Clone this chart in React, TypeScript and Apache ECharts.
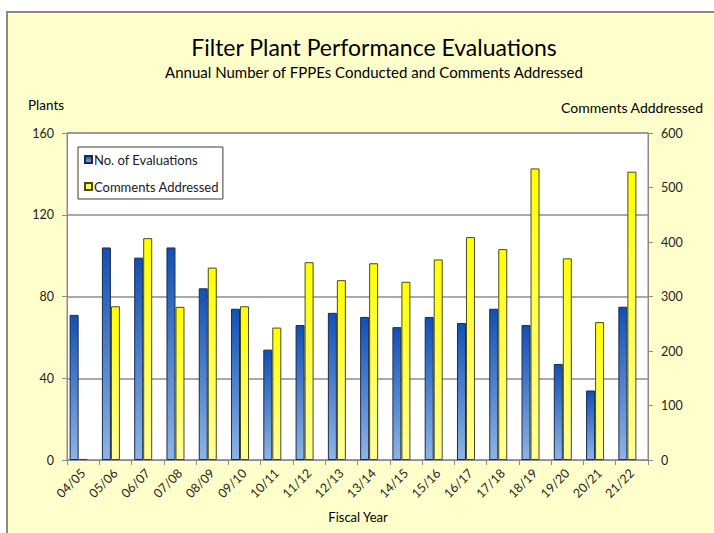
import React, { useEffect, useRef } from "react";
import * as echarts from "echarts";

const categories = ["04/05", "05/06", "06/07", "07/08", "08/09", "09/10", "10/11", "11/12", "12/13", "13/14", "14/15", "15/16", "16/17", "17/18", "18/19", "19/20", "20/21", "21/22"];
const evaluations = [71, 104, 99, 104, 84, 74, 54, 66, 72, 70, 65, 70, 67, 74, 66, 47, 34, 75];
const comments = [2, 282, 407, 281, 353, 282, 243, 363, 330, 361, 327, 368, 409, 387, 535, 370, 253, 529];
const leftTicks = { min: 0, max: 160, interval: 40 };
const rightTicks = { min: 0, max: 600, interval: 100 };

const FONT = "Lato, 'Noto Sans', sans-serif";

export default function App() {
  const ref = useRef<HTMLDivElement>(null);
  useEffect(() => {
    if (!ref.current) return;
    const chart = echarts.init(ref.current, undefined, { renderer: "svg" });
    const blue = new echarts.graphic.LinearGradient(0, 0, 0, 1, [
      { offset: 0, color: "#1150b5" },
      { offset: 1, color: "#8db4e4" },
    ]);
    const yellow = new echarts.graphic.LinearGradient(0, 0, 0, 1, [
      { offset: 0, color: "#ffff00" },
      { offset: 1, color: "#ffff9c" },
    ]);
    chart.setOption({
      animation: false,
      backgroundColor: "transparent",
      textStyle: { fontFamily: FONT },
      grid: {
        left: 67,
        right: 66,
        top: 133,
        bottom: 73,
        show: true,
        backgroundColor: "#ffffff",
        borderColor: "#8c8c8c",
        borderWidth: 1,
        containLabel: false,
      },
      legend: {
        data: ["No. of Evaluations", "Comments Addressed"],
        orient: "vertical",
        left: 78,
        top: 147,
        backgroundColor: "#ffffff",
        borderColor: "#3a3a3a",
        borderWidth: 1,
        padding: [5, 4, 5, 6],
        itemGap: 12,
        itemWidth: 7,
        itemHeight: 7,
        icon: "rect",
        textStyle: { fontFamily: FONT, fontSize: 13, color: "#1a1a1a", padding: [0, 0, 0, -3], lineHeight: 15 },
      },
      graphic: [
        { type: "text", x: 374, y: 47, style: { text: "Filter Plant Performance Evaluations", font: `23px ${FONT}`, fill: "#000", textAlign: "center", textVerticalAlign: "middle" } },
        { type: "text", x: 374, y: 72, style: { text: "Annual Number of FPPEs Conducted and Comments Addressed", font: `15px ${FONT}`, fill: "#000", textAlign: "center", textVerticalAlign: "middle" } },
        { type: "text", x: 28, y: 105, style: { text: "Plants", font: `13.5px ${FONT}`, fill: "#000", textAlign: "left", textVerticalAlign: "middle" } },
        { type: "text", x: 703, y: 107, style: { text: "Comments Adddressed", font: `14px ${FONT}`, fill: "#000", textAlign: "right", textVerticalAlign: "middle" } },
        { type: "text", x: 358, y: 517, style: { text: "Fiscal Year", font: `13px ${FONT}`, fill: "#000", textAlign: "center", textVerticalAlign: "middle" } },
      ],
      xAxis: {
        type: "category",
        data: categories,
        axisLine: { show: true, lineStyle: { color: "#8c8c8c", width: 1 } },
        axisTick: { show: true, length: 5, lineStyle: { color: "#8c8c8c" } },
        axisLabel: { rotate: 45, margin: 11, fontSize: 12.5, color: "#222", fontFamily: FONT, interval: 0 },
        splitLine: { show: false },
      },
      yAxis: [
        {
          type: "value",
          position: "left",
          ...leftTicks,
          axisLine: { show: true, lineStyle: { color: "#8c8c8c" } },
          axisTick: { show: true, length: 5, lineStyle: { color: "#8c8c8c" } },
          axisLabel: { margin: 13, fontSize: 12.5, color: "#222", fontFamily: FONT },
          splitLine: { show: true, lineStyle: { color: "#8c8c8c", width: 1.5 } },
        },
        {
          type: "value",
          position: "right",
          ...rightTicks,
          axisLine: { show: true, lineStyle: { color: "#8c8c8c" } },
          axisTick: { show: true, length: 5, lineStyle: { color: "#8c8c8c" } },
          axisLabel: { margin: 13, fontSize: 12.5, color: "#222", fontFamily: FONT },
          splitLine: { show: false },
        },
      ],
      series: [
        {
          name: "No. of Evaluations",
          type: "bar",
          yAxisIndex: 0,
          data: evaluations,
          barWidth: 9,
          barGap: "0%",
          itemStyle: { color: blue, borderColor: "#1b2a4a", borderWidth: 1 },
        },
        {
          name: "Comments Addressed",
          type: "bar",
          yAxisIndex: 1,
          data: comments,
          barWidth: 9,
          barGap: "0%",
          itemStyle: { color: yellow, borderColor: "#4a4a1e", borderWidth: 1 },
        },
        {
          name: "spacer",
          type: "bar",
          yAxisIndex: 0,
          data: categories.map(() => null),
          barWidth: 9,
          barGap: "0%",
        },
      ],
    });
    return () => chart.dispose();
  }, []);
  return (
    <div style={{ position: "fixed", left: 0, top: 0, width: 714, height: 533, background: "#ffffff", overflow: "hidden" }}>
      <div style={{ position: "absolute", left: 6, top: 11, width: 760, height: 600, background: "#ffffcc", borderLeft: "2px solid #8a8a8a", borderTop: "2px solid #8a8a8a" }} />
      <div ref={ref} style={{ position: "absolute", left: 0, top: 0, width: 714, height: 533 }} />
    </div>
  );
}
